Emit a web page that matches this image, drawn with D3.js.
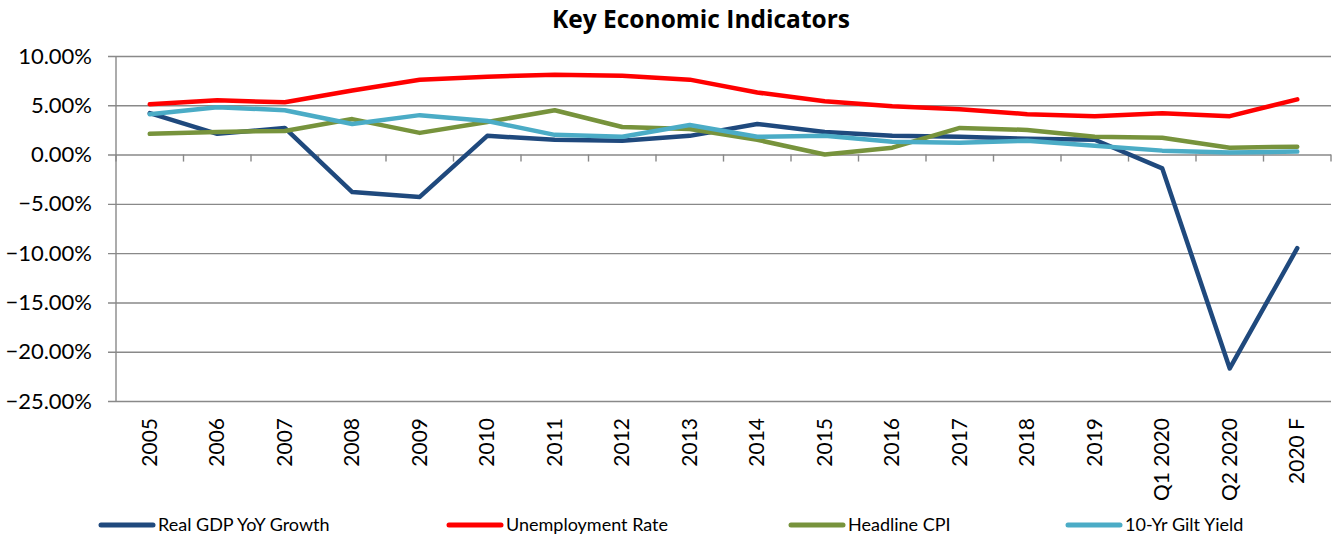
<!DOCTYPE html>
<html>
<head>
<meta charset="utf-8">
<script src="https://cdn.jsdelivr.net/npm/d3@7"></script>
<style>
  html, body { margin: 0; padding: 0; background: #fff; }
  svg { display: block; }
  text { font-family: Lato, "Open Sans", "Liberation Sans", sans-serif; fill: #000; }
</style>
</head>
<body>
<svg id="chart" width="1332" height="537"></svg>
<script>
// Categories along the x axis
const categories = ["2005", "2006", "2007", "2008", "2009", "2010", "2011", "2012", "2013",
  "2014", "2015", "2016", "2017", "2018", "2019", "Q1 2020", "Q2 2020", "2020 F"];

// Series values, in percent
const realGdp = [4.2, 2.1, 2.7, -3.8, -4.3, 1.9, 1.5, 1.4, 1.9, 3.1, 2.3, 1.9, 1.8, 1.6, 1.5, -1.4, -21.7, -9.5];
const unemployment = [5.1, 5.5, 5.3, 6.5, 7.6, 7.9, 8.1, 8.0, 7.6, 6.3, 5.4, 4.9, 4.6, 4.1, 3.9, 4.2, 3.9, 5.6];
const headlineCpi = [2.1, 2.3, 2.4, 3.6, 2.2, 3.3, 4.5, 2.8, 2.6, 1.5, 0.0, 0.7, 2.7, 2.5, 1.8, 1.7, 0.7, 0.8];
const giltYield = [4.1, 4.8, 4.5, 3.1, 4.0, 3.4, 2.0, 1.8, 3.0, 1.8, 1.9, 1.3, 1.2, 1.4, 0.9, 0.4, 0.2, 0.3];

// Y axis tick values
const yTicks = [10, 5, 0, -5, -10, -15, -20, -25];

const series = [
  { name: "Real GDP YoY Growth", values: realGdp, color: "#1F497D" },
  { name: "Unemployment Rate", values: unemployment, color: "#FF0000" },
  { name: "Headline CPI", values: headlineCpi, color: "#77933C" },
  { name: "10-Yr Gilt Yield", values: giltYield, color: "#4BACC6" }
];

const svg = d3.select("#chart");
const plot = { left: 116, right: 1331, top: 56, bottom: 401 };
const gridColor = "#898989";

const x = d3.scaleBand().domain(categories).range([plot.left, plot.right]).padding(0);
const y = d3.scaleLinear().domain([-25, 10]).range([plot.bottom, plot.top]);

// Title
svg.append("text")
  .attr("x", 701).attr("y", 28)
  .attr("text-anchor", "middle")
  .style("font-family", "'Open Sans', Lato, sans-serif")
  .style("font-weight", "bold")
  .style("font-size", "24.5px")
  .text("Key Economic Indicators");

// Horizontal gridlines with outside tick marks on the value axis
const yAxis = d3.axisLeft(y)
  .tickValues(yTicks)
  .tickSize(-(plot.right - plot.left))
  .tickSizeOuter(0)
  .tickPadding(0)
  .tickFormat(d => d3.format(".2f")(d) + "%");

const gy = svg.append("g")
  .attr("transform", `translate(${plot.left},0)`)
  .call(yAxis);
gy.select(".domain").remove();
gy.selectAll(".tick line")
  .attr("x1", -8)
  .attr("stroke", gridColor)
  .attr("stroke-width", 1.4);
gy.selectAll(".tick text")
  .attr("x", -24)
  .style("font-size", "22px");

// Vertical value axis line
svg.append("line")
  .attr("x1", plot.left).attr("x2", plot.left)
  .attr("y1", plot.top).attr("y2", plot.bottom)
  .attr("stroke", gridColor).attr("stroke-width", 1.4);

// Category axis at zero, ticks between categories
const boundaries = categories.map((c, i) => i === 0 ? plot.left : x(c)).concat([plot.right]);
svg.append("g").selectAll("line")
  .data(boundaries)
  .join("line")
  .attr("x1", d => d).attr("x2", d => d)
  .attr("y1", y(0)).attr("y2", y(0) + 7)
  .attr("stroke", gridColor).attr("stroke-width", 1.4);

// Category labels, rotated, placed below the plot area
svg.append("g").selectAll("text")
  .data(categories)
  .join("text")
  .attr("transform", d => `translate(${x(d) + x.bandwidth() / 2 + 7},418) rotate(-90)`)
  .attr("text-anchor", "end")
  .style("font-size", "21px")
  .text(d => d);

// Series lines
const line = d3.line()
  .x((d, i) => x(categories[i]) + x.bandwidth() / 2)
  .y(d => y(d));

svg.append("g").selectAll("path")
  .data(series)
  .join("path")
  .attr("d", d => line(d.values))
  .attr("fill", "none")
  .attr("stroke", d => d.color)
  .attr("stroke-width", 4.5)
  .attr("stroke-linejoin", "round")
  .attr("stroke-linecap", "round");

// Legend
const legendX = [99, 447, 789, 1066];
const lg = svg.append("g").selectAll("g")
  .data(series)
  .join("g")
  .attr("transform", (d, i) => `translate(${legendX[i]},525)`);
lg.append("line")
  .attr("x1", 2).attr("x2", 54)
  .attr("y1", 0).attr("y2", 0)
  .attr("stroke", d => d.color)
  .attr("stroke-width", 5)
  .attr("stroke-linecap", "round");
lg.append("text")
  .attr("x", 59).attr("y", 6)
  .style("font-size", "18px")
  .text(d => d.name);
</script>
</body>
</html>
